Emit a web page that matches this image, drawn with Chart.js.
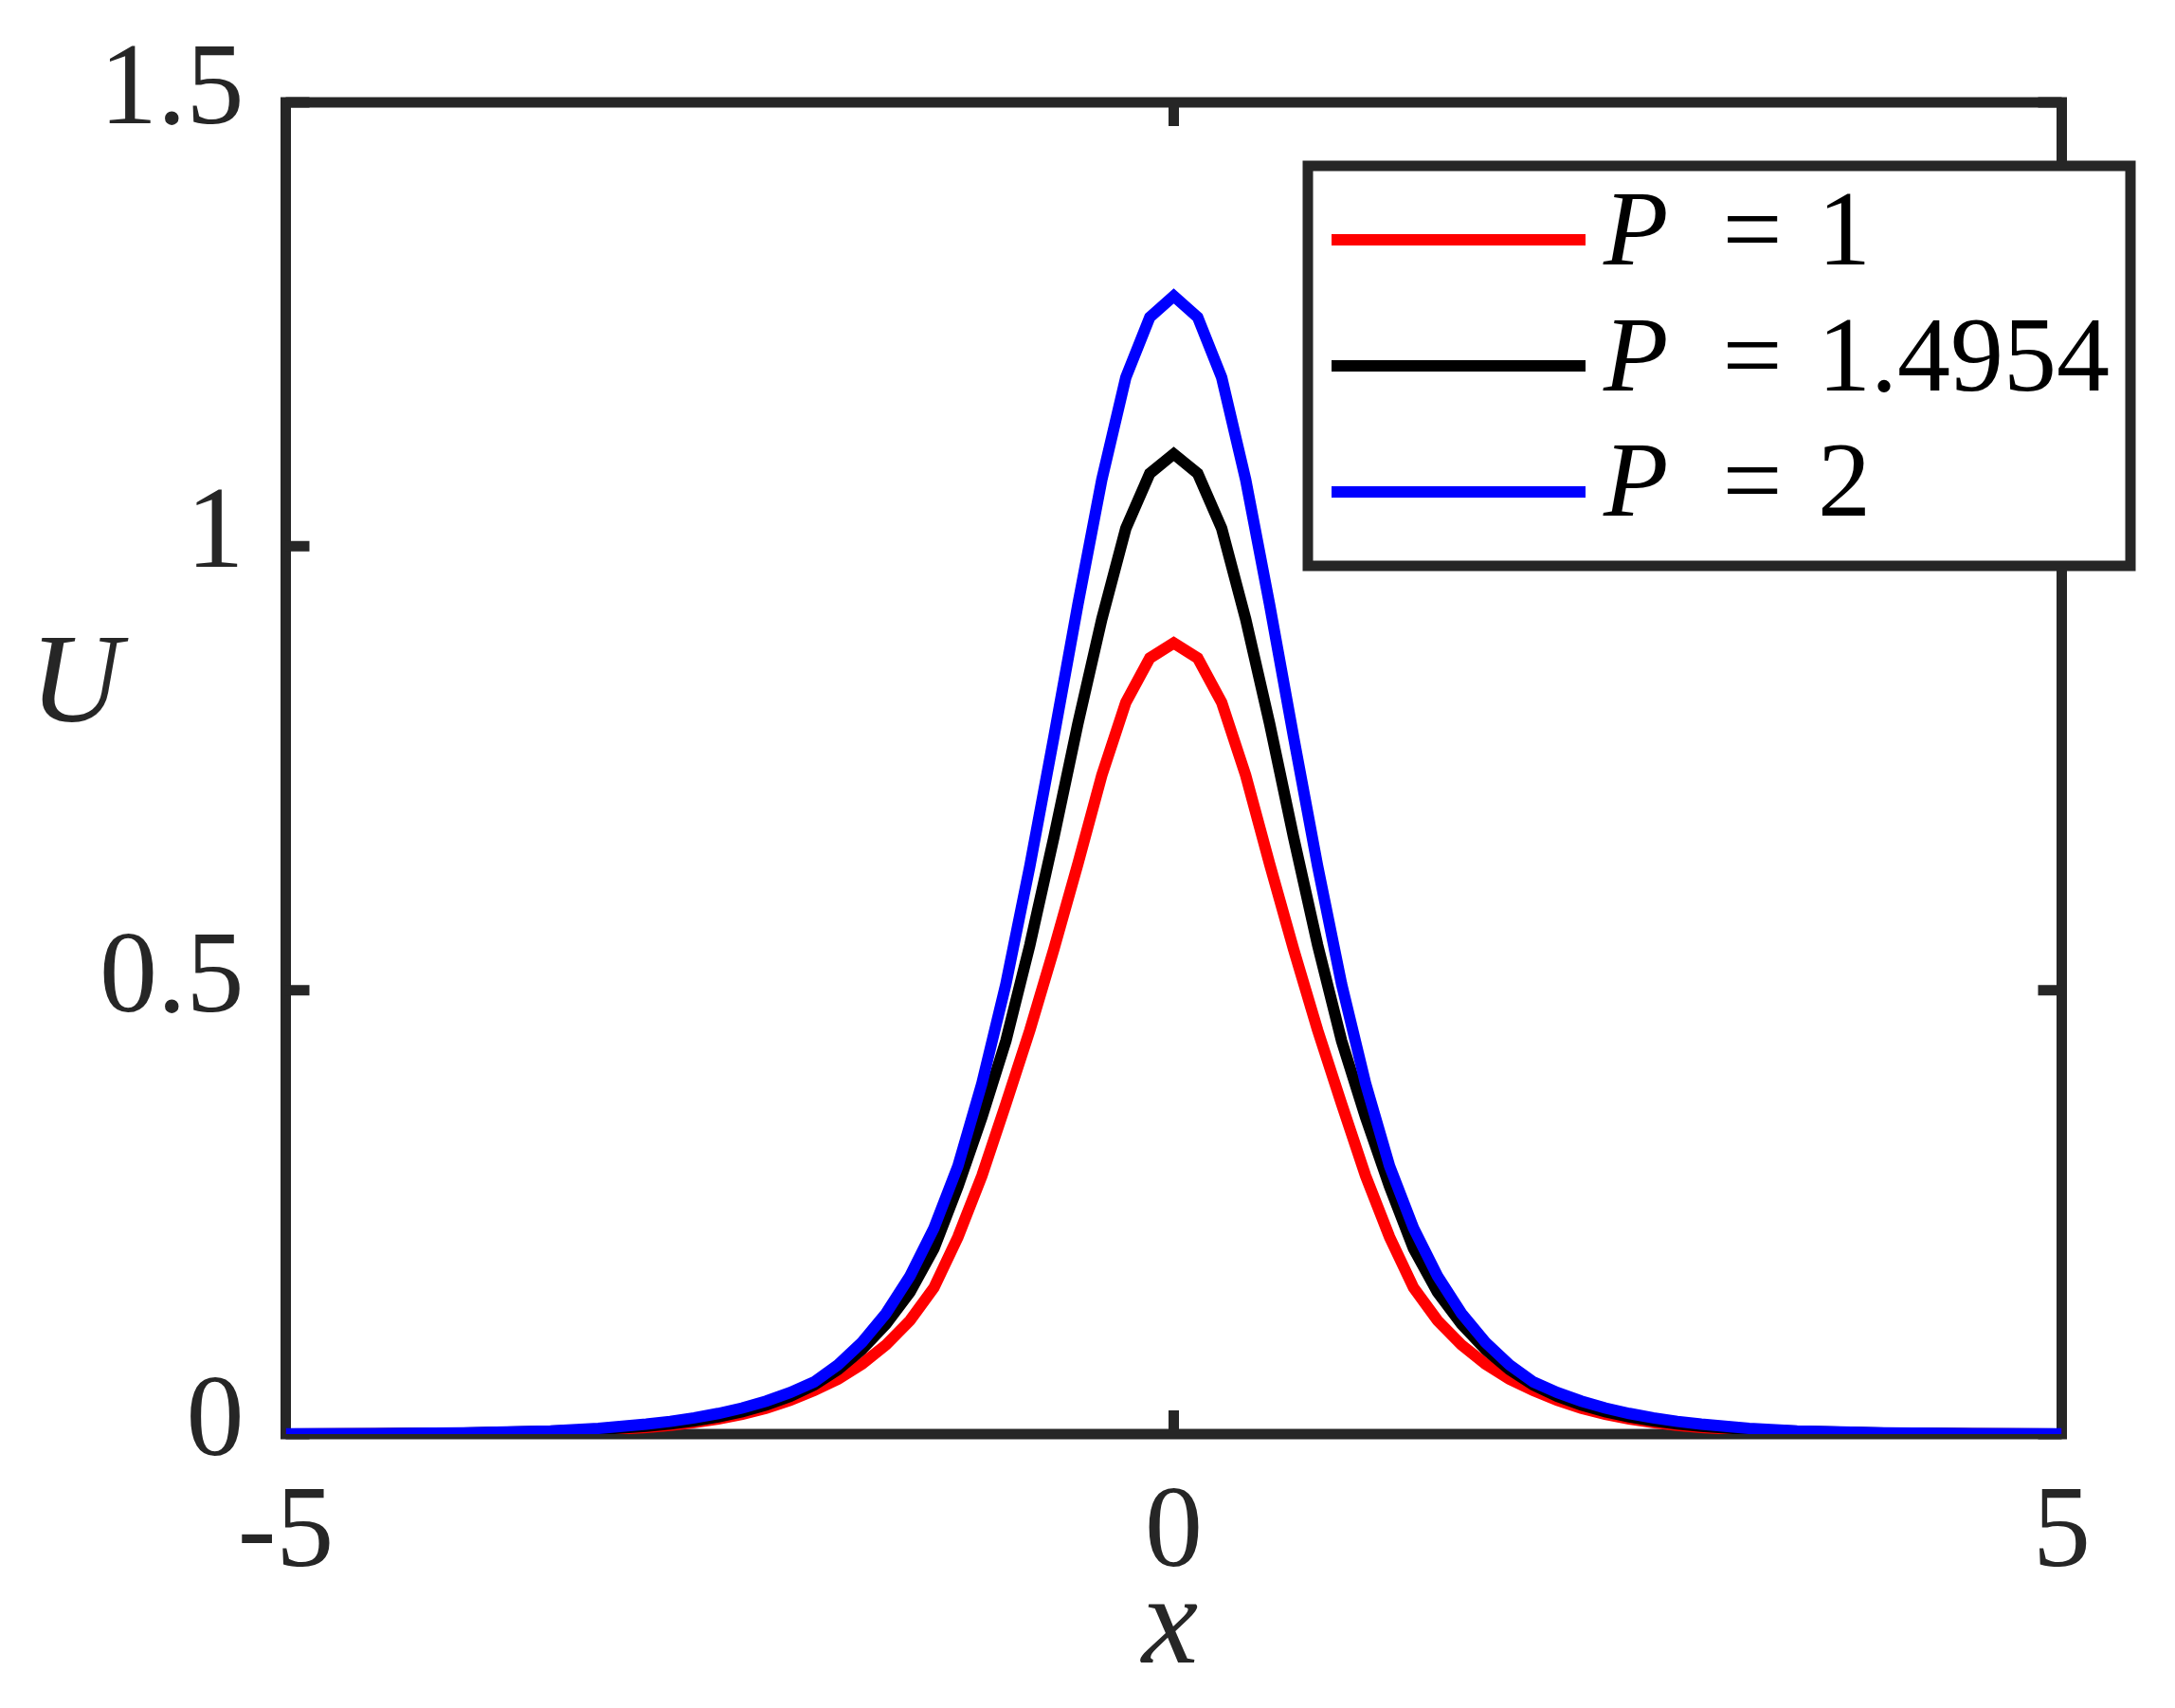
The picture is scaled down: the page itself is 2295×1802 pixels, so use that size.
<!DOCTYPE html>
<html>
<head>
<meta charset="utf-8">
<script src="https://cdn.jsdelivr.net/npm/chart.js@4/dist/chart.umd.min.js"></script>
<style>
html,body{margin:0;padding:0;background:#ffffff;}
canvas{display:block;}
</style>
</head>
<body>
<canvas id="c" width="2295" height="1802"></canvas>
<script>
// ---- data ----
const xValues = [-5, -4.5, -4, -3.51, -3.24, -2.97, -2.835, -2.7, -2.565, -2.43, -2.295, -2.16,
  -2.025, -1.89, -1.755, -1.62, -1.485, -1.35, -1.215, -1.08, -0.945, -0.81, -0.675, -0.54, -0.405, -0.27, -0.135,
  0,
  0.135, 0.27, 0.405, 0.54, 0.675, 0.81, 0.945, 1.08, 1.215, 1.35, 1.485, 1.62, 1.755, 1.89, 2.025,
  2.16, 2.295, 2.43, 2.565, 2.7, 2.835, 2.97, 3.24, 3.51, 4, 4.5, 5];

const uP1 = [0.0001, 0.0003, 0.0008, 0.0025, 0.0044, 0.0075, 0.0099, 0.013, 0.017, 0.0222, 0.029, 0.038,
  0.049, 0.062, 0.079, 0.1005, 0.128, 0.165, 0.222, 0.291, 0.372, 0.455, 0.546, 0.642, 0.742, 0.824, 0.874,
  0.891,
  0.874, 0.824, 0.742, 0.642, 0.546, 0.455, 0.372, 0.291, 0.222, 0.165, 0.128, 0.1005, 0.079, 0.062, 0.049,
  0.038, 0.029, 0.0222, 0.017, 0.013, 0.0099, 0.0075, 0.0044, 0.0025, 0.0008, 0.0003, 0.0001];

const uP14954 = [0.00013, 0.0004, 0.0011, 0.0031, 0.0052, 0.0088, 0.0114, 0.0148, 0.0193, 0.0251, 0.0327, 0.0425,
  0.0553, 0.0726, 0.0953, 0.124, 0.160, 0.209, 0.279, 0.357, 0.443, 0.551, 0.672, 0.800, 0.918, 1.020, 1.082,
  1.104,
  1.082, 1.020, 0.918, 0.800, 0.672, 0.551, 0.443, 0.357, 0.279, 0.209, 0.160, 0.124, 0.0953, 0.0726, 0.0553,
  0.0425, 0.0327, 0.0251, 0.0193, 0.0148, 0.0114, 0.0088, 0.0052, 0.0031, 0.0011, 0.0004, 0.00013];

const uP2 = [0.00016, 0.00045, 0.0013, 0.0036, 0.0064, 0.0112, 0.0143, 0.0182, 0.0232, 0.0293, 0.0371, 0.0467,
  0.0587, 0.078, 0.1035, 0.136, 0.178, 0.232, 0.302, 0.395, 0.507, 0.640, 0.785, 0.934, 1.075, 1.190, 1.258,
  1.282,
  1.258, 1.190, 1.075, 0.934, 0.785, 0.640, 0.507, 0.395, 0.302, 0.232, 0.178, 0.136, 0.1035, 0.078, 0.0587,
  0.0467, 0.0371, 0.0293, 0.0232, 0.0182, 0.0143, 0.0112, 0.0064, 0.0036, 0.0013, 0.00045, 0.00016];

const seriesValues = ['1', '1.4954', '2'];
const xTicks = [-5, 0, 5];
const yTicks = [0, 0.5, 1, 1.5];
const xTitle = 'x';
const yTitle = 'U';

// ---- styling ----
const AXIS = '#262626';
const FONT = "'Liberation Serif', 'Times New Roman', serif";
const colors = ['#ff0000', '#000000', '#0000ff'];
const series = [uP1, uP14954, uP2];

const datasets = series.map((arr, i) => ({
  label: 'P = ' + seriesValues[i],
  data: xValues.map((x, j) => ({x: x, y: arr[j]})),
  borderColor: colors[i],
  backgroundColor: colors[i],
  borderWidth: 12,
  pointRadius: 0,
  tension: 0,
  fill: false,
  order: 3 - i
}));

const framePlugin = {
  id: 'frame',
  beforeDatasetsDraw(chart) {
    const ctx = chart.ctx;
    const {left, right, top, bottom} = chart.chartArea;
    const xs = chart.scales.x, ys = chart.scales.y;
    ctx.save();
    ctx.strokeStyle = AXIS;
    ctx.lineWidth = 11;
    ctx.lineCap = 'butt';
    ctx.lineJoin = 'miter';
    ctx.strokeRect(left, top, right - left, bottom - top);
    const tl = 25;
    ctx.beginPath();
    xTicks.forEach(v => {
      const p = xs.getPixelForValue(v);
      ctx.moveTo(p, bottom); ctx.lineTo(p, bottom - tl);
      ctx.moveTo(p, top); ctx.lineTo(p, top + tl);
    });
    yTicks.forEach(v => {
      const p = ys.getPixelForValue(v);
      ctx.moveTo(left, p); ctx.lineTo(left + tl, p);
      ctx.moveTo(right, p); ctx.lineTo(right - tl, p);
    });
    ctx.stroke();
    ctx.restore();
  },
  afterDraw(chart) {
    const ctx = chart.ctx;
    ctx.save();
    // axis titles
    ctx.fillStyle = AXIS;
    ctx.font = 'italic 134px ' + FONT;
    ctx.textAlign = 'center';
    ctx.textBaseline = 'alphabetic';
    ctx.fillText(yTitle, 80, 761);
    const xc = chart.scales.x.getPixelForValue(0);
    ctx.fillText(xTitle, xc - 4, 1754);
    // legend box
    const bx = 1380, by = 175, bw = 868, bh = 422;
    ctx.fillStyle = '#ffffff';
    ctx.fillRect(bx, by, bw, bh);
    ctx.strokeStyle = AXIS;
    ctx.lineWidth = 11;
    ctx.strokeRect(bx, by, bw, bh);
    chart.data.datasets.forEach((ds, i) => {
      const ly = 253 + i * 133;
      ctx.strokeStyle = ds.borderColor;
      ctx.lineWidth = 12;
      ctx.beginPath();
      ctx.moveTo(1405, ly);
      ctx.lineTo(1673, ly);
      ctx.stroke();
      const base = 279 + i * 132.7;
      ctx.fillStyle = '#000000';
      ctx.textAlign = 'left';
      ctx.font = 'italic 112px ' + FONT;
      ctx.fillText('P', 1692, base);
      ctx.font = '112px ' + FONT;
      ctx.textAlign = 'center';
      ctx.fillText('=', 1849, base);
      ctx.textAlign = 'left';
      ctx.fillText(seriesValues[i], 1918, base);
    });
    ctx.restore();
  }
};

new Chart(document.getElementById('c'), {
  type: 'line',
  data: { datasets: datasets },
  options: {
    responsive: false,
    animation: false,
    devicePixelRatio: 1,
    layout: { padding: { left: 0, top: 108, right: 119.5, bottom: 0 } },
    plugins: { legend: { display: false }, tooltip: { enabled: false }, title: { display: false } },
    elements: { point: { radius: 0 }, line: { tension: 0 } },
    scales: {
      x: {
        type: 'linear',
        min: -5, max: 5,
        afterBuildTicks: s => { s.ticks = xTicks.map(v => ({value: v})); },
        afterFit: s => { s.height = 289; },
        grid: { display: false, drawTicks: true, tickLength: 34 },
        border: { display: false },
        ticks: { color: AXIS, font: { family: FONT, size: 122 }, padding: 0, maxRotation: 0, autoSkip: false,
                 callback: v => String(v) }
      },
      y: {
        type: 'linear',
        min: 0, max: 1.5,
        afterBuildTicks: s => { s.ticks = yTicks.map(v => ({value: v})); },
        afterFit: s => { s.width = 301.5; },
        grid: { display: false, drawTicks: true, tickLength: 44 },
        border: { display: false },
        ticks: { color: AXIS, font: { family: FONT, size: 122 }, padding: 0, labelOffset: -10, autoSkip: false,
                 callback: v => String(v) }
      }
    }
  },
  plugins: [framePlugin]
});
</script>
</body>
</html>
